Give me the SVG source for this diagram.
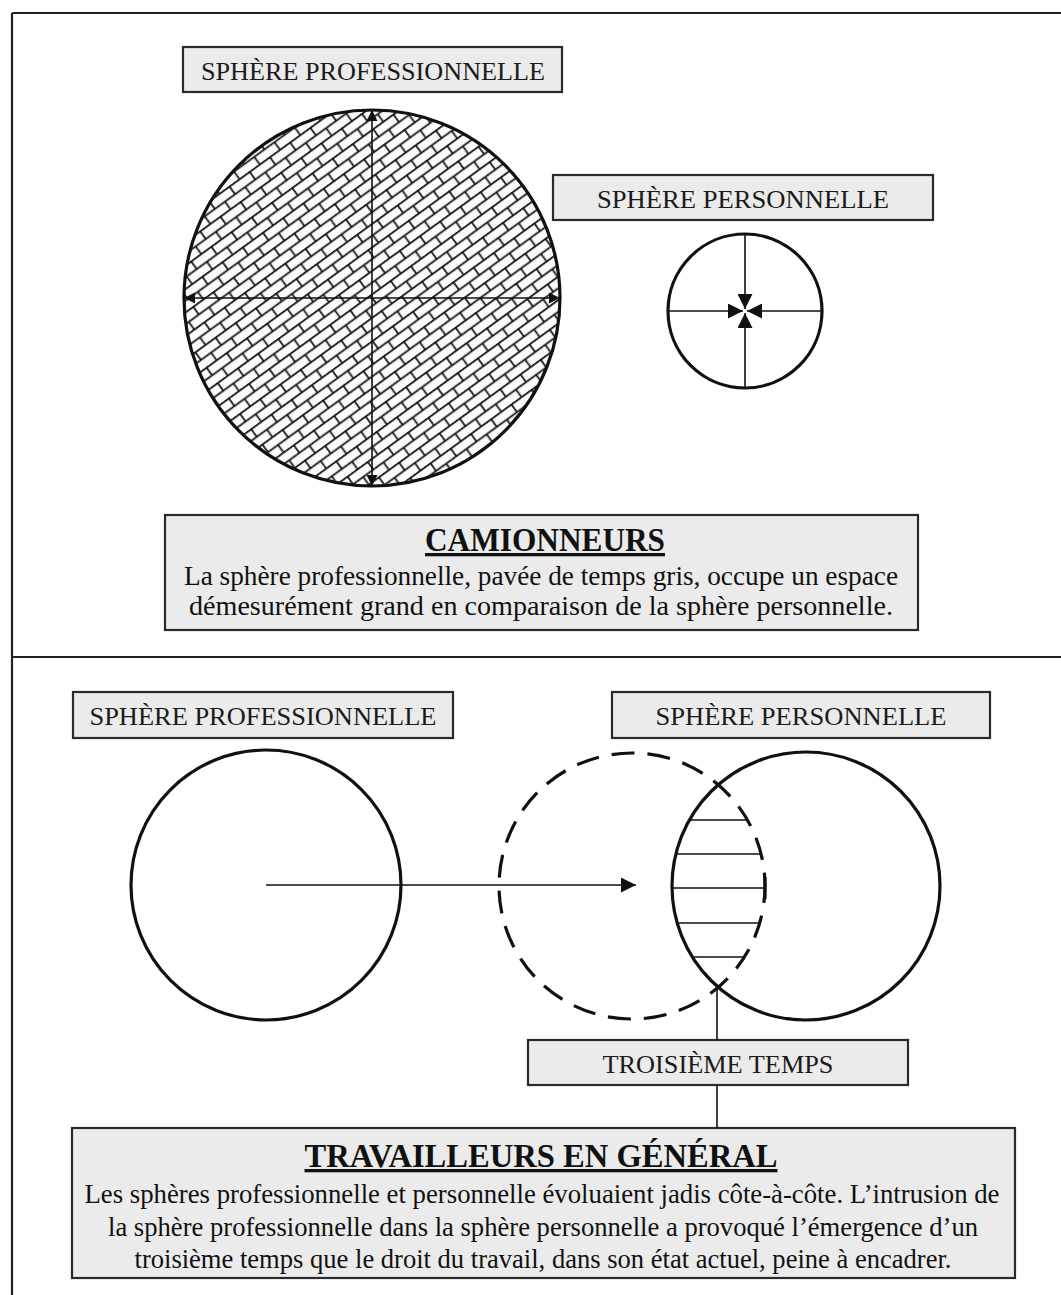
<svg xmlns="http://www.w3.org/2000/svg" width="1061" height="1295" viewBox="0 0 1061 1295">
<style>
.box{fill:#ebebeb;stroke:#2a2a2a;stroke-width:2.2}
.lbl{font-family:"Liberation Serif","Times New Roman",serif;font-size:26px;fill:#1a1a1a;text-anchor:middle}
.title{font-family:"Liberation Serif","Times New Roman",serif;font-size:33px;font-weight:bold;fill:#111;text-anchor:middle;text-decoration:underline}
.body{font-family:"Liberation Serif","Times New Roman",serif;font-size:28px;fill:#111;text-anchor:middle}
.circ{fill:none;stroke:#111;stroke-width:3.2}
.ln{stroke:#111;stroke-width:1.6;fill:none}
.frame{stroke:#222;stroke-width:2.2;fill:none}
</style>
<defs>
<pattern id="brick" patternUnits="userSpaceOnUse" width="25" height="19" patternTransform="rotate(-36)">
<rect width="25" height="19" fill="#fbfbfb"/>
<path d="M0,0.9H25M0,10.4H25M1,0V10.4M13.5,10.4V19" stroke="#111" stroke-width="1.7" fill="none"/>
</pattern>
<marker id="ah" viewBox="0 0 10 10" refX="10" refY="5" markerWidth="12" markerHeight="11" markerUnits="userSpaceOnUse" orient="auto">
<path d="M0,0L10,5L0,10z" fill="#111"/>
</marker>
<marker id="ah2" viewBox="0 0 10 10" refX="10" refY="5" markerWidth="15" markerHeight="15" markerUnits="userSpaceOnUse" orient="auto">
<path d="M0,0L10,5L0,10z" fill="#111"/>
</marker>
</defs>
<rect width="1061" height="1295" fill="#ffffff"/>
<g id="frame">
<path class="frame" d="M12,13H1061M12,13V1295M12,657H1061"/>
</g>
<g id="top-pro-label">
<rect class="box" x="183" y="47" width="379" height="45"/>
<text class="lbl" x="373" y="80" textLength="344" lengthAdjust="spacingAndGlyphs">SPHÈRE PROFESSIONNELLE</text>
</g>
<g id="top-big-circle">
<circle cx="372" cy="298" r="188" fill="url(#brick)"/>
<circle class="circ" cx="372" cy="298" r="188"/>
</g>
<g id="top-pers-label">
<rect class="box" x="553" y="175" width="380" height="45"/>
<text class="lbl" x="743" y="208" textLength="292" lengthAdjust="spacingAndGlyphs">SPHÈRE PERSONNELLE</text>
</g>
<g id="top-small-circle">
<circle class="circ" cx="745" cy="311" r="77"/>
</g>
<g id="top-caption">
<rect class="box" x="165" y="515" width="753" height="115"/>
<text class="title" x="545" y="551" textLength="240" lengthAdjust="spacingAndGlyphs">CAMIONNEURS</text>
<text class="body" x="541" y="585" textLength="714" lengthAdjust="spacingAndGlyphs">La sphère professionnelle, pavée de temps gris, occupe un espace</text>
<text class="body" x="541" y="615" textLength="704" lengthAdjust="spacingAndGlyphs">démesurément grand en comparaison de la sphère personnelle.</text>
</g>
<g id="bot-pro-label">
<rect class="box" x="73" y="692" width="380" height="46"/>
<text class="lbl" x="263" y="725" textLength="347" lengthAdjust="spacingAndGlyphs">SPHÈRE PROFESSIONNELLE</text>
</g>
<g id="bot-pers-label">
<rect class="box" x="612" y="692" width="378" height="46"/>
<text class="lbl" x="801" y="725" textLength="291" lengthAdjust="spacingAndGlyphs">SPHÈRE PERSONNELLE</text>
</g>
<g id="bot-left-circle">
<circle class="circ" cx="266" cy="885" r="135"/>
</g>
<g id="bot-dashed-circle">
<circle class="circ" cx="632" cy="886" r="133" stroke-dasharray="23 13" stroke-dashoffset="6"/>
</g>
<g id="bot-right-circle">
<circle class="circ" cx="806" cy="886" r="134"/>
</g>
<g id="bot-lens-hatch">
<path class="ln" d="M690,820H747M676,854H761M672,888H765M677,923H760M692,957H744"/>
<path d="M765,877V899" stroke="#111" stroke-width="3"/>
</g>
<g id="troisieme-label">
<rect class="box" x="528" y="1040" width="380" height="45"/>
<text class="lbl" x="718" y="1073" textLength="231" lengthAdjust="spacingAndGlyphs">TROISIÈME TEMPS</text>
</g>
<g id="bot-caption">
<rect class="box" x="72" y="1128" width="943" height="150"/>
<text class="title" x="541" y="1167" textLength="473" lengthAdjust="spacingAndGlyphs">TRAVAILLEURS EN GÉNÉRAL</text>
<text class="body" x="542" y="1203" textLength="915" lengthAdjust="spacingAndGlyphs">Les sphères professionnelle et personnelle évoluaient jadis côte-à-côte. L’intrusion de</text>
<text class="body" x="543" y="1236" textLength="870" lengthAdjust="spacingAndGlyphs">la sphère professionnelle dans la sphère personnelle a provoqué l’émergence d’un</text>
<text class="body" x="543" y="1268" textLength="817" lengthAdjust="spacingAndGlyphs">troisième temps que le droit du travail, dans son état actuel, peine à encadrer.</text>
</g>
<g id="connectors">
<line class="ln" x1="372" y1="298" x2="372" y2="110" marker-end="url(#ah)"/>
<line class="ln" x1="372" y1="298" x2="372" y2="486" marker-end="url(#ah)"/>
<line class="ln" x1="372" y1="298" x2="184" y2="298" marker-end="url(#ah)"/>
<line class="ln" x1="372" y1="298" x2="560" y2="298" marker-end="url(#ah)"/>
<line class="ln" x1="745" y1="234" x2="745" y2="309" marker-end="url(#ah2)"/>
<line class="ln" x1="745" y1="388" x2="745" y2="313" marker-end="url(#ah2)"/>
<line class="ln" x1="668" y1="311" x2="743" y2="311" marker-end="url(#ah2)"/>
<line class="ln" x1="822" y1="311" x2="747" y2="311" marker-end="url(#ah2)"/>
<line class="ln" x1="266" y1="885" x2="636" y2="885" marker-end="url(#ah2)"/>
<line class="ln" x1="717" y1="988" x2="717" y2="1040"/>
<line class="ln" x1="717" y1="1085" x2="717" y2="1128"/>
</g>
</svg>
